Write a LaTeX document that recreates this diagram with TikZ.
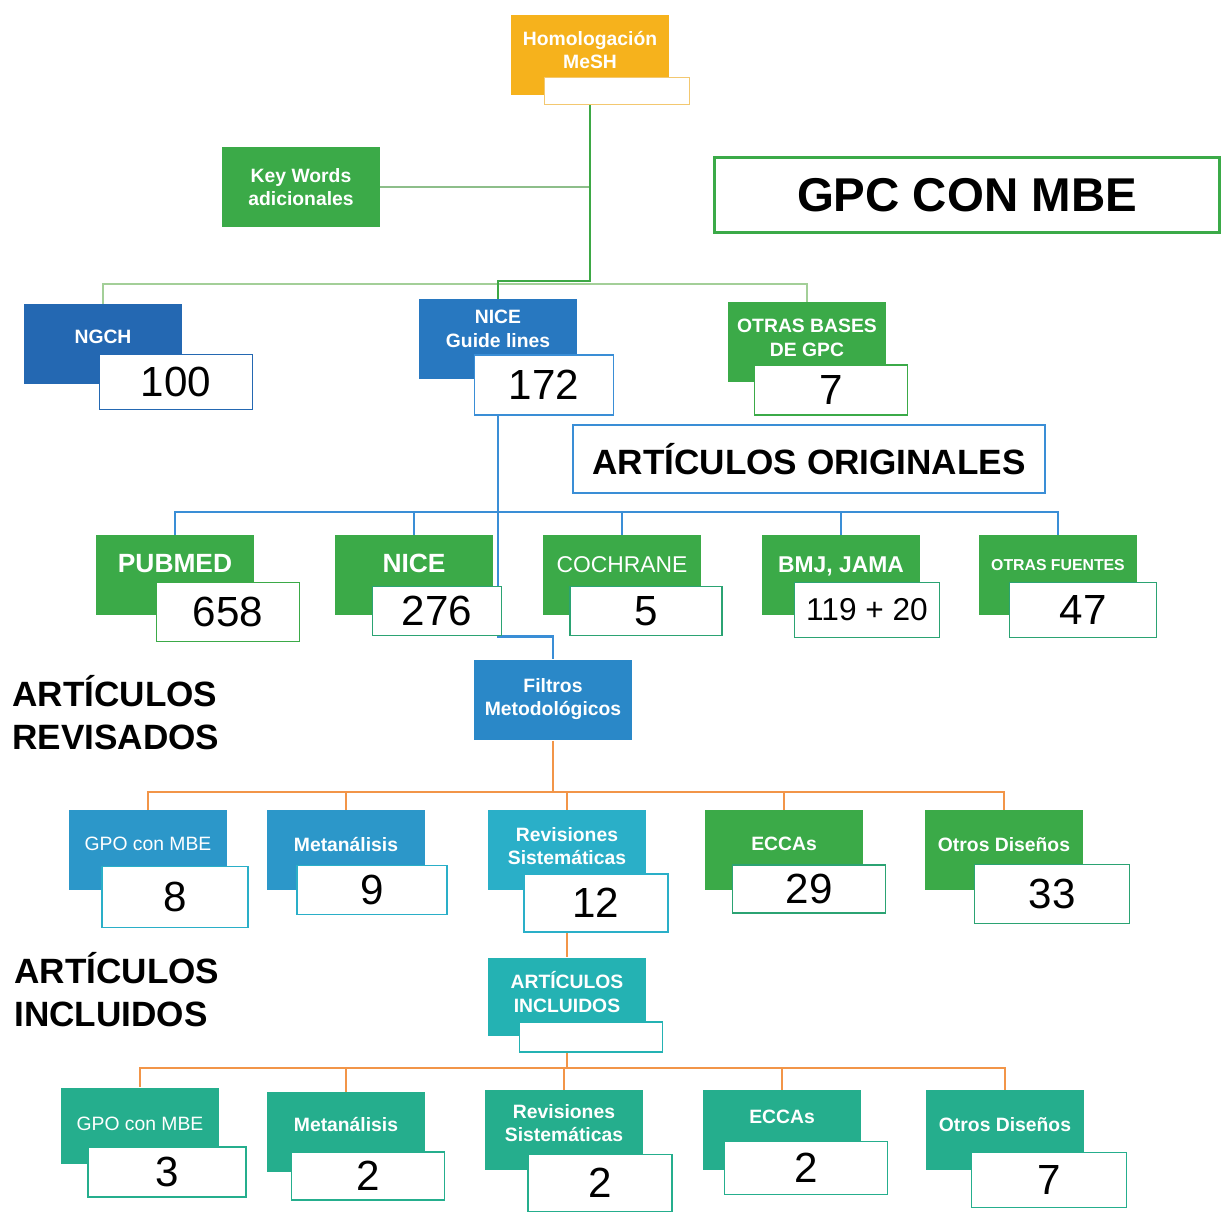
\documentclass[tikz,border=0pt]{standalone}
\usepackage{fontspec}
\setmainfont{Liberation Sans}
\usetikzlibrary{backgrounds}

\definecolor{meshorange}{HTML}{F6B21C}
\definecolor{meshpale}{HTML}{F3C870}
\definecolor{kgreen}{HTML}{3BAA48}
\definecolor{ngchblue}{HTML}{2468B2}
\definecolor{niceblue}{HTML}{2878C0}
\definecolor{filtblue}{HTML}{2A88C8}
\definecolor{revblue}{HTML}{2C97C9}
\definecolor{revcyan}{HTML}{2AAFC8}
\definecolor{incteal}{HTML}{24B2B3}
\definecolor{incgreen}{HTML}{25AE8D}
\definecolor{tealgreen}{HTML}{2BA373}
\definecolor{linegreen}{HTML}{3DA845}
\definecolor{palegreen}{HTML}{A3CF98}
\definecolor{kwgreen}{HTML}{8DBE8A}
\definecolor{lineblue}{HTML}{3A8ED6}
\definecolor{lineorange}{HTML}{F29548}

\tikzstyle{catbox}=[rectangle,
                    minimum width=3.16cm,
                    minimum height=1.6cm,
                    inner sep=2pt,
                    text=white,
                    align=center,
                    text depth=0.24cm,
                    font=\fontsize{11}{13.5}\selectfont\bfseries]
\tikzstyle{countbox}=[rectangle,
                      draw,
                      line width=1.1pt,
                      fill=white,
                      inner sep=0pt,
                      font=\fontsize{24}{28}\selectfont]
\tikzstyle{titlebox}=[rectangle,
                      draw,
                      line width=1.3pt,
                      fill=white,
                      font=\fontsize{20}{24}\selectfont\bfseries]
\tikzstyle{sidetitle}=[anchor=west,
                       inner sep=0pt,
                       align=left,
                       font=\fontsize{20}{24.4}\selectfont\bfseries]
\tikzstyle{bus}=[line width=1.6pt]

\begin{document}
\begin{tikzpicture}[x=0.02cm,y=-0.02cm]
  \useasboundingbox (0,0) rectangle (1221,1212);

  % Search terms and guideline sources:
  \node (mesh) [catbox, fill=meshorange, text depth=0.2cm] at (590,55) {Homologación\\MeSH};
  \node (meshnum) [countbox, draw=meshpale, minimum width=2.9cm, minimum height=0.54cm] at (617,91) {};
  \node (kw) [catbox, fill=kgreen, text depth=0pt] at (301,187) {Key Words\\adicionales};
  \node (gpc) [titlebox, draw=kgreen, minimum width=10.1cm, minimum height=1.5cm,
               font=\fontsize{27}{30}\selectfont\bfseries] at (967,195) {GPC CON MBE};

  \node (ngch) [catbox, fill=ngchblue, text depth=0.28cm] at (103,344) {NGCH};
  \node (ngchnum) [countbox, draw=ngchblue, minimum width=3.06cm, minimum height=1.1cm] at (176,382) {100};
  \node (niceg) [catbox, fill=niceblue, text depth=0.4cm] at (498,339) {NICE\\Guide lines};
  \node (nicenum) [countbox, draw=lineblue, minimum width=2.78cm, minimum height=1.2cm] at (544,385) {172};
  \node (otras) [catbox, fill=kgreen, text depth=0.18cm] at (807,342) {OTRAS BASES\\DE GPC};
  \node (otrasnum) [countbox, draw=kgreen, minimum width=3.06cm, minimum height=1.0cm] at (831,390) {7};

  \node (orig) [titlebox, draw=lineblue, minimum width=9.44cm, minimum height=1.36cm] at (809,459) {ARTÍCULOS ORIGINALES};

  % Original articles per database:
  \node (pubmed) [catbox, fill=kgreen, text depth=0.46cm, font=\fontsize{15}{18}\selectfont\bfseries] at (175,575) {PUBMED};
  \node (pubmednum) [countbox, draw=kgreen, minimum width=2.86cm, minimum height=1.18cm] at (228,612) {658};
  \node (nicetwo) [catbox, fill=kgreen, text depth=0.46cm, font=\fontsize{15}{18}\selectfont\bfseries] at (414,575) {NICE};
  \node (nicetwonum) [countbox, draw=tealgreen, minimum width=2.58cm, minimum height=0.98cm] at (437,611) {276};
  \node (cochrane) [catbox, fill=kgreen, text depth=0.4cm, font=\fontsize{13}{16}\selectfont] at (622,575) {COCHRANE};
  \node (cochranenum) [countbox, draw=tealgreen, minimum width=3.04cm, minimum height=0.98cm] at (646,611) {5};
  \node (bmj) [catbox, fill=kgreen, text depth=0.4cm, font=\fontsize{13}{16}\selectfont\bfseries] at (841,575) {BMJ, JAMA};
  \node (bmjnum) [countbox, draw=tealgreen, minimum width=2.9cm, minimum height=1.1cm,
                  font=\fontsize{18}{22}\selectfont] at (867,610) {119 + 20};
  \node (otrasf) [catbox, fill=kgreen, text depth=0.4cm, font=\fontsize{9}{11}\selectfont\bfseries] at (1058,575) {OTRAS FUENTES};
  \node (otrasfnum) [countbox, draw=tealgreen, minimum width=2.94cm, minimum height=1.1cm] at (1083,610) {47};

  \node (filtros) [catbox, fill=filtblue, minimum height=1.62cm, text depth=0.12cm] at (553,700) {Filtros\\Metodológicos};
  \node (revisados) [sidetitle] at (12,713) {ARTÍCULOS\\REVISADOS};

  % Reviewed articles by design:
  \node (gpo) [catbox, fill=revblue, font=\fontsize{11}{13.5}\selectfont] at (148,850) {GPO con MBE};
  \node (gponum) [countbox, draw=revcyan, minimum width=2.92cm, minimum height=1.22cm] at (175,897) {8};
  \node (meta) [catbox, fill=revblue] at (346,850) {Metanálisis};
  \node (metanum) [countbox, draw=revcyan, minimum width=3.0cm, minimum height=0.98cm] at (372,890) {9};
  \node (revi) [catbox, fill=revcyan, text depth=0.16cm] at (567,850) {Revisiones\\Sistemáticas};
  \node (revinum) [countbox, draw=revcyan, minimum width=2.88cm, minimum height=1.16cm] at (596,903) {12};
  \node (ecca) [catbox, fill=kgreen] at (784,850) {ECCAs};
  \node (eccanum) [countbox, draw=tealgreen, minimum width=3.06cm, minimum height=0.96cm] at (809,889) {29};
  \node (otrosd) [catbox, fill=kgreen] at (1004,850) {Otros Diseños};
  \node (otrosdnum) [countbox, draw=tealgreen, minimum width=3.1cm, minimum height=1.18cm] at (1052,894) {33};

  \node (incl) [catbox, fill=incteal, minimum height=1.58cm, text depth=0.2cm] at (567,997) {ARTÍCULOS\\INCLUIDOS};
  \node (inclnum) [countbox, draw=incteal, minimum width=2.86cm, minimum height=0.6cm] at (591,1037) {};
  \node (incluidos) [sidetitle] at (14,990) {ARTÍCULOS\\INCLUIDOS};

  % Included articles by design:
  \node (gpob) [catbox, fill=incgreen, minimum height=1.54cm, text depth=0.08cm, font=\fontsize{11}{13.5}\selectfont] at (140,1126) {GPO con MBE};
  \node (gpobnum) [countbox, draw=incgreen, minimum width=3.16cm, minimum height=1.0cm] at (167,1172) {3};
  \node (metab) [catbox, fill=incgreen, text depth=0.32cm] at (346,1132) {Metanálisis};
  \node (metabnum) [countbox, draw=incgreen, minimum width=3.06cm, minimum height=0.96cm] at (368,1176) {2};
  \node (revib) [catbox, fill=incgreen, text depth=0.28cm] at (564,1130) {Revisiones\\Sistemáticas};
  \node (revibnum) [countbox, draw=incgreen, minimum width=2.88cm, minimum height=1.14cm] at (600,1183) {2};
  \node (eccab) [catbox, fill=incgreen, text depth=0.52cm] at (782,1130) {ECCAs};
  \node (eccabnum) [countbox, draw=incgreen, minimum width=3.26cm, minimum height=1.06cm] at (806,1168) {2};
  \node (otrosb) [catbox, fill=incgreen] at (1005,1130) {Otros Diseños};
  \node (otrosbnum) [countbox, draw=incgreen, minimum width=3.1cm, minimum height=1.1cm] at (1049,1180) {7};

  % Bus levels of the tree:
  \coordinate (busa) at (0,281);
  \coordinate (busb) at (0,284);
  \coordinate (busc) at (0,512);
  \coordinate (busd) at (0,792);
  \coordinate (buse) at (0,1068);
  \coordinate (bend) at (niceg.north |- nicetwonum.south);

  % The connectors go behind the boxes:
  \begin{pgfonlayer}{background}
    \draw[bus, palegreen] (ngch.north) -- (ngch.north |- busb) -| (otras.north);
    \draw[line width=1.2pt, kwgreen] (kw.east) -- (kw.east -| mesh.south);
    \draw[bus, linegreen] (mesh.south |- meshnum.south) -- (mesh.south |- busa) -| (niceg.north);

    \draw[bus, lineblue] (nicenum.south -| niceg.north) -- (bend) -| (filtros.north);
    \draw[line width=1.3pt, lineblue] (pubmed.north) -- (pubmed.north |- busc) -| (otrasf.north);
    \path[line width=1.3pt, lineblue]
        (nicetwo.north) edge (nicetwo.north |- busc)
        (cochrane.north) edge (cochrane.north |- busc)
        (bmj.north) edge (bmj.north |- busc);

    \draw[bus, lineorange] (filtros.south) -- (filtros.south |- busd);
    \draw[bus, lineorange] (gpo.north) -- (gpo.north |- busd) -| (otrosd.north);
    \path[bus, lineorange]
        (meta.north) edge (meta.north |- busd)
        (revi.north) edge (revi.north |- busd)
        (ecca.north) edge (ecca.north |- busd)
        (revinum.south -| incl.north) edge (incl.north)
        (inclnum.south -| incl.north) edge (incl.north |- buse);
    \draw[bus, lineorange] (gpob.north) -- (gpob.north |- buse) -| (otrosb.north);
    \path[bus, lineorange]
        (metab.north) edge (metab.north |- buse)
        (revib.north) edge (revib.north |- buse)
        (eccab.north) edge (eccab.north |- buse);
  \end{pgfonlayer}
\end{tikzpicture}
\end{document}
